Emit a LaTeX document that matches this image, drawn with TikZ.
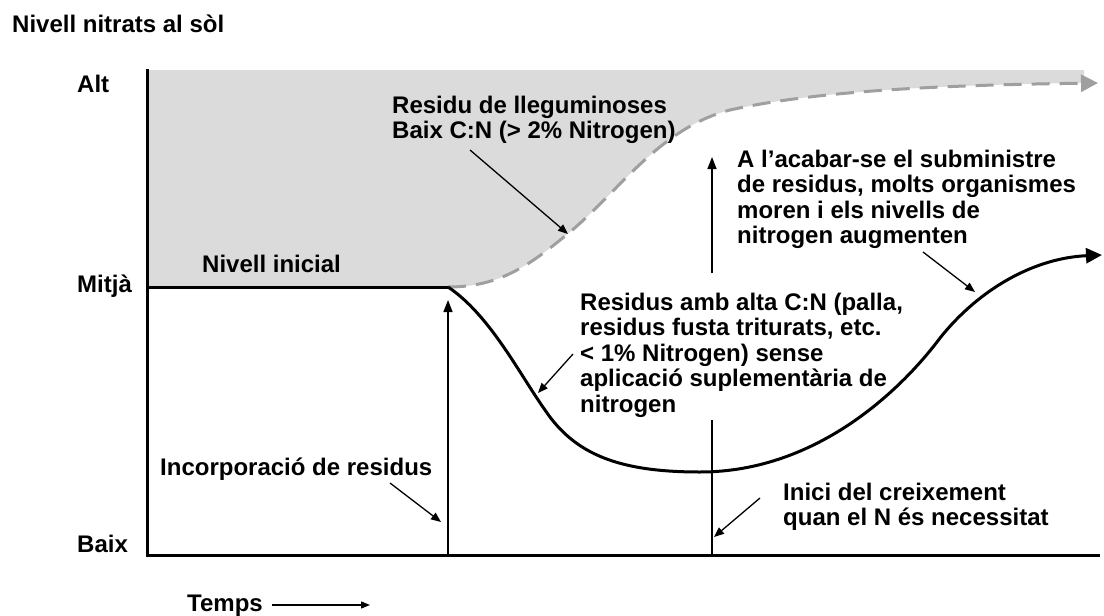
\documentclass[tikz,border=0pt]{standalone}
\usepackage{fontspec}
\setmainfont{Liberation Sans}
\usetikzlibrary{arrows.meta}
\begin{document}
\begin{tikzpicture}[x=1pt,y=-1pt,
  lbl/.style={font=\bfseries\fontsize{24}{25.5}\selectfont, align=left, anchor=base west, inner sep=0pt},
  ptr/.style={-{Triangle[length=10pt,width=8pt]}, line width=1.3pt},
  vline/.style={line width=1.6pt},
  axis/.style={line width=3pt},
  curve/.style={line width=3pt, line join=round}]
\useasboundingbox (0,0) rectangle (1104,616);
% gray region
\fill[gray!28] (147,70) -- (1084,70) -- (1084,83) -- (1080,83)
  .. controls (950,85) and (820,90) .. (730,110)
  .. controls (660,128) and (620,190) .. (570,232)
  .. controls (530,265) and (500,287) .. (448,287) -- (147,287) -- cycle;
% coordinates
\coordinate (o) at (147,555);
\coordinate (ytop) at (147,69);
\coordinate (xend) at (1100,555);
\coordinate (m0) at (147,287);
\coordinate (m1) at (448,287);
\coordinate (dend) at (1098,83);
\coordinate (cend) at (1102,255);
% dashed curve
\draw[color=gray!75, line width=3pt, dash pattern=on 18pt off 10pt, -{Triangle[length=17pt,width=17pt]}]
  (m1) .. controls (500,287) and (530,265) .. (570,232)
  .. controls (620,190) and (660,128) .. (730,110)
  .. controls (820,90) and (950,85) .. (dend);
% axes
\draw[axis] (ytop) -- (o) -- (xend);
% flat + black curve
\draw[curve] (m0) -- (m1);
\draw[curve, -{Triangle[length=16pt,width=15pt]}]
  (m1) .. controls (490,315) and (520,375) .. (545,410)
  .. controls (575,455) and (620,472) .. (700,472)
  .. controls (820,472) and (905,385) .. (940,338)
  .. controls (980,288) and (1035,258) .. (cend);
% vertical lines
\coordinate (v1b) at (448,555);
\coordinate (v1t) at (448,300);
\draw[vline, -{Triangle[length=12pt,width=9pt]}] (v1b) -- (v1t);
\coordinate (v2b) at (712,555);
\coordinate (v2m) at (712,420);
\coordinate (v2u) at (712,273);
\coordinate (v2t) at (712,157);
\draw[vline] (v2b) -- (v2m);
\draw[vline, -{Triangle[length=12pt,width=9pt]}] (v2u) -- (v2t);
% labels (anchor = baseline of the last line)
\node[lbl] (title) at (12,32) {Nivell nitrats al sòl};
\node[lbl] (alt) at (77,92) {Alt};
\node[lbl] (mitja) at (77,292) {Mitjà};
\node[lbl] (baix) at (77,552) {Baix};
\node[lbl] (temps) at (187,611) {Temps};
\coordinate (ta) at (272,605);
\coordinate (tb) at (370,605);
\draw[line width=1.3pt, -{Triangle[length=9pt,width=7pt]}] (ta) -- (tb);
\node[lbl] (inicial) at (202,272) {Nivell inicial};
\node[lbl] (incorp) at (160,475) {Incorporació de residus};
\node[lbl] (inici) at (783,525.5) {Inici del creixement\\quan el N és necessitat};
\node[lbl] (lleg) at (392,138.5) {Residu de lleguminoses\\Baix C:N (> 2\% Nitrogen)};
\node[lbl] (alta) at (580,412) {Residus amb alta C:N (palla,\\residus fusta triturats, etc.\\< 1\% Nitrogen) sense\\aplicació suplementària de\\nitrogen};
\node[lbl] (acabar) at (737,243.5) {A l’acabar-se el subministre\\de residus, molts organismes\\moren i els nivells de\\nitrogen augmenten};
% pointer arrows
\coordinate (p1a) at (390,483); \coordinate (p1b) at (441,522);
\draw[ptr] (p1a) -- (p1b);
\coordinate (p2a) at (760,498); \coordinate (p2b) at (714,537);
\draw[ptr] (p2a) -- (p2b);
\coordinate (p3a) at (573,354); \coordinate (p3b) at (538,393);
\draw[ptr] (p3a) -- (p3b);
\coordinate (p4a) at (470,150); \coordinate (p4b) at (568,234);
\draw[ptr] (p4a) -- (p4b);
\coordinate (p5a) at (923,252); \coordinate (p5b) at (975,292);
\draw[ptr] (p5a) -- (p5b);
\end{tikzpicture}
\end{document}
